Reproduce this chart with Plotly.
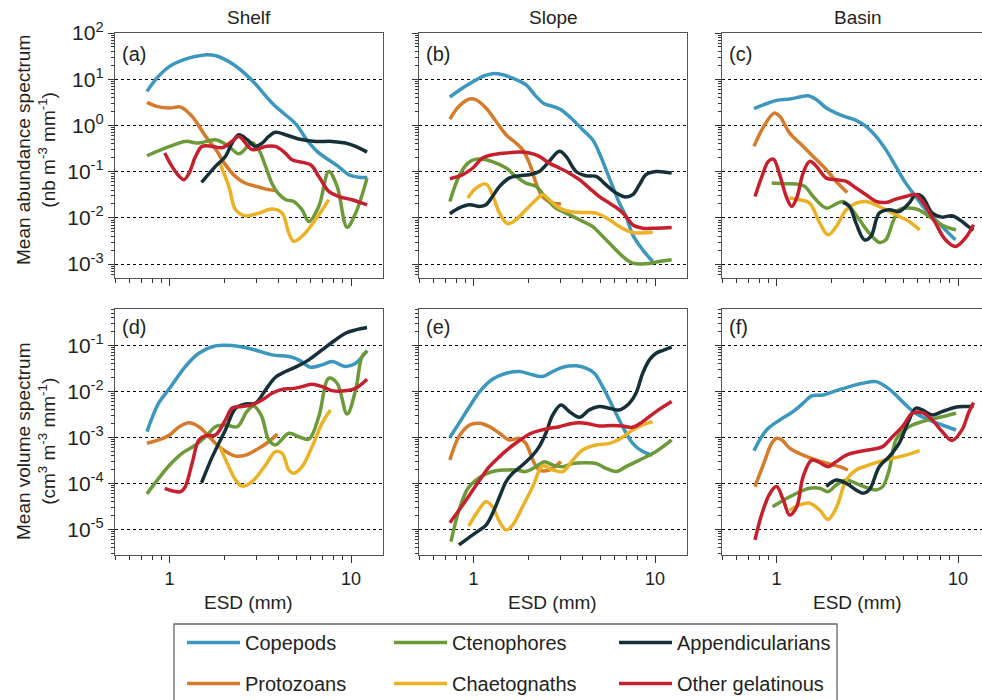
import math
import plotly.graph_objects as go

# ---------------- data (ESD in mm, spectra values) ----------------
SPECIES = ["Copepods", "Ctenophores", "Appendicularians",
           "Protozoans", "Chaetognaths", "Other gelatinous"]
COLUMN_TITLES = ["Shelf", "Slope", "Basin"]
PANEL_LABELS = ["(a)", "(b)", "(c)", "(d)", "(e)", "(f)"]
ROW_TITLES = ["Mean abundance spectrum<br>(nb m<sup>-3</sup> mm<sup>-1</sup>)",
              "Mean volume spectrum<br>(cm<sup>3</sup> m<sup>-3</sup> mm<sup>-1</sup>)"]
X_TICKS = [1, 10]
X_TICK_TEXT = ["1", "10"]
Y_TICKS_TOP = [1e-3, 1e-2, 1e-1, 1e0, 1e1, 1e2]
Y_TICK_TEXT_TOP = ["10<sup>-3</sup>", "10<sup>-2</sup>", "10<sup>-1</sup>",
                   "10<sup>0</sup>", "10<sup>1</sup>", "10<sup>2</sup>"]
Y_TICKS_BOT = [1e-5, 1e-4, 1e-3, 1e-2, 1e-1]
Y_TICK_TEXT_BOT = ["10<sup>-5</sup>", "10<sup>-4</sup>", "10<sup>-3</sup>",
                   "10<sup>-2</sup>", "10<sup>-1</sup>"]

# (a) Shelf - abundance
A_COP_X = [0.75, 0.85, 1.0, 1.2, 1.4, 1.6, 1.8, 2.0, 2.3, 2.6, 3.0, 3.4, 3.8, 4.3, 5.0, 5.7, 6.5, 7.5, 8.5, 9.7, 11.0, 12.3]
A_COP_Y = [5.46, 10.6, 19.0, 26.5, 31.3, 34.0, 32.3, 27.3, 19.6, 13.2, 7.6, 4.26, 2.67, 1.77, 1.04, 0.49, 0.275, 0.181, 0.130, 0.086, 0.076, 0.075]
A_PRO_X = [0.75, 0.85, 1.0, 1.15, 1.33, 1.58, 1.8, 2.0, 2.3, 2.6, 3.0, 3.4, 3.9]
A_PRO_Y = [3.16, 2.59, 2.38, 2.5, 1.57, 0.58, 0.30, 0.153, 0.079, 0.057, 0.048, 0.042, 0.0387]
A_CTE_X = [0.75, 1.0, 1.22, 1.45, 1.79, 2.12, 2.41, 2.85, 3.1, 3.38, 3.67, 3.92, 4.35, 4.83, 5.37, 5.85, 6.64, 7.54, 8.38, 9.51, 10.6, 12.25]
A_CTE_Y = [0.221, 0.352, 0.452, 0.416, 0.49, 0.352, 0.244, 0.42, 0.30, 0.13, 0.055, 0.036, 0.025, 0.0227, 0.015, 0.0084, 0.0177, 0.101, 0.048, 0.0063, 0.0127, 0.0726]
A_APP_X = [1.50, 1.79, 2.03, 2.21, 2.41, 2.68, 2.97, 3.24, 3.52, 3.83, 4.35, 5.15, 6.36, 7.86, 9.31, 10.6, 12.25]
A_APP_Y = [0.0586, 0.130, 0.214, 0.416, 0.63, 0.49, 0.352, 0.416, 0.58, 0.71, 0.63, 0.51, 0.452, 0.452, 0.416, 0.352, 0.265]
A_OTH_X = [0.94, 1.03, 1.13, 1.2, 1.28, 1.39, 1.51, 1.72, 1.95, 2.2, 2.41, 2.85, 3.38, 3.83, 4.35, 4.73, 5.98, 6.64, 7.54, 8.55, 10.1, 12.25]
A_OTH_Y = [0.253, 0.130, 0.079, 0.067, 0.093, 0.214, 0.352, 0.352, 0.33, 0.45, 0.58, 0.30, 0.352, 0.352, 0.25, 0.181, 0.141, 0.079, 0.0374, 0.029, 0.0247, 0.0192]
A_CHA_X = [1.89, 2.12, 2.31, 2.62, 3.10, 3.67, 4.17, 4.54, 4.83, 5.37, 6.36, 7.54]
A_CHA_Y = [0.153, 0.048, 0.015, 0.0111, 0.0127, 0.0155, 0.0127, 0.0047, 0.0031, 0.004, 0.0091, 0.0247]

# (b) Slope - abundance
B_COP_X = [0.74, 0.87, 1.0, 1.12, 1.27, 1.45, 1.64, 1.94, 2.21, 2.45, 2.73, 3.03, 3.52, 3.99, 4.53, 4.93, 5.37, 5.84, 6.36, 6.92, 7.53, 8.55, 9.70]
B_COP_Y = [4.12, 6.46, 9.0, 11.5, 13.2, 12.5, 10.6, 7.6, 4.26, 2.95, 2.59, 2.19, 1.33, 0.81, 0.49, 0.253, 0.110, 0.048, 0.0209, 0.0108, 0.0043, 0.00204, 0.00114]
B_PRO_X = [0.74, 0.83, 0.95, 1.03, 1.17, 1.33, 1.51, 1.71, 1.86, 2.03, 2.21, 2.40, 2.73, 3.03]
B_PRO_Y = [1.37, 2.59, 3.73, 3.6, 2.38, 1.22, 0.63, 0.416, 0.30, 0.153, 0.0566, 0.029, 0.0209, 0.0202]
B_CTE_X = [0.74, 0.83, 0.93, 1.03, 1.17, 1.33, 1.51, 1.71, 1.94, 2.21, 2.50, 2.84, 3.23, 3.83, 4.53, 5.14, 5.84, 6.63, 7.53, 8.92, 10.57, 12.35]
B_CTE_Y = [0.0227, 0.079, 0.153, 0.187, 0.181, 0.153, 0.12, 0.079, 0.0566, 0.048, 0.0269, 0.0163, 0.0127, 0.0091, 0.0065, 0.004, 0.0024, 0.00147, 0.00105, 0.00102, 0.00114, 0.00124]
B_APP_X = [0.74, 0.83, 0.95, 1.08, 1.17, 1.27, 1.39, 1.57, 1.79, 2.03, 2.30, 2.61, 2.97, 3.23, 3.67, 4.16, 4.73, 5.37, 6.10, 6.92, 7.53, 8.20, 8.92, 10.13, 12.35]
B_APP_Y = [0.0123, 0.0163, 0.0192, 0.0177, 0.0192, 0.029, 0.048, 0.0726, 0.0817, 0.086, 0.101, 0.167, 0.275, 0.214, 0.101, 0.0817, 0.079, 0.052, 0.0344, 0.0282, 0.0317, 0.052, 0.086, 0.101, 0.093]
B_OTH_X = [0.74, 0.87, 0.99, 1.12, 1.27, 1.51, 1.79, 2.03, 2.30, 2.61, 2.97, 3.37, 3.83, 4.34, 4.93, 5.60, 6.36, 6.92, 7.53, 8.55, 10.13, 12.35]
B_OTH_Y = [0.0703, 0.086, 0.12, 0.197, 0.232, 0.253, 0.265, 0.253, 0.214, 0.153, 0.12, 0.093, 0.067, 0.0442, 0.029, 0.0209, 0.015, 0.0108, 0.0071, 0.0060, 0.0060, 0.0062]
B_CHA_X = [0.93, 1.03, 1.17, 1.27, 1.39, 1.54, 1.71, 1.94, 2.21, 2.40, 2.61, 2.97, 3.37, 3.99, 4.73, 5.60, 6.36, 7.53, 9.70]
B_CHA_Y = [0.0269, 0.0442, 0.054, 0.0317, 0.0127, 0.0075, 0.0091, 0.015, 0.0247, 0.0317, 0.0247, 0.0163, 0.0138, 0.0131, 0.0127, 0.0091, 0.0065, 0.00484, 0.0049]

# (c) Basin - abundance
C_COP_X = [0.75, 0.85, 1.0, 1.18, 1.34, 1.49, 1.66, 1.88, 2.13, 2.42, 2.74, 3.11, 3.53, 4.0, 4.54, 5.15, 5.84, 6.63, 7.51, 8.52, 9.67]
C_COP_Y = [2.30, 2.81, 3.49, 3.73, 4.12, 4.40, 3.6, 2.38, 1.85, 1.52, 1.29, 0.955, 0.58, 0.30, 0.130, 0.0566, 0.029, 0.015, 0.0091, 0.0055, 0.00336]
C_PRO_X = [0.75, 0.85, 0.97, 1.04, 1.18, 1.34, 1.59, 1.88, 2.13, 2.45]
C_PRO_Y = [0.352, 0.955, 1.85, 1.575, 0.684, 0.416, 0.214, 0.110, 0.0615, 0.0356]
C_CTE_X = [0.94, 1.09, 1.29, 1.43, 1.59, 1.88, 2.13, 2.32, 2.52, 2.86, 3.24, 3.68, 4.0, 4.35, 4.73, 5.37, 6.09, 6.91, 7.84, 8.52, 9.75]
C_CTE_Y = [0.0566, 0.055, 0.054, 0.048, 0.029, 0.0163, 0.0202, 0.0227, 0.0177, 0.0091, 0.0047, 0.00294, 0.00336, 0.0077, 0.015, 0.0163, 0.015, 0.0108, 0.0077, 0.0065, 0.0055]
C_APP_X = [2.32, 2.52, 2.74, 3.05, 3.31, 3.68, 4.17, 4.73, 5.37, 5.84, 6.35, 7.21, 8.17, 9.27, 10.5, 11.4, 12.18]
C_APP_Y = [0.0216, 0.0177, 0.0077, 0.00336, 0.004, 0.0127, 0.015, 0.0138, 0.0209, 0.0317, 0.029, 0.0127, 0.0104, 0.0111, 0.0084, 0.0065, 0.0055]
C_OTH_X = [0.76, 0.83, 0.90, 0.96, 1.04, 1.13, 1.21, 1.29, 1.40, 1.52, 1.66, 1.88, 2.13, 2.42, 2.74, 3.11, 3.53, 4.0, 4.54, 5.15, 5.84, 6.63, 7.51, 8.52, 9.67, 10.97, 12.18]
C_OTH_Y = [0.029, 0.079, 0.167, 0.187, 0.086, 0.029, 0.0177, 0.0269, 0.093, 0.167, 0.130, 0.0726, 0.067, 0.0615, 0.0442, 0.0317, 0.0227, 0.0216, 0.0255, 0.029, 0.0317, 0.0177, 0.0077, 0.00336, 0.0024, 0.00365, 0.0071]
C_CHA_X = [1.18, 1.34, 1.52, 1.73, 1.92, 2.13, 2.42, 2.74, 3.11, 3.53, 4.0, 4.73, 5.37, 6.14]
C_CHA_Y = [0.0269, 0.0247, 0.0209, 0.0077, 0.0043, 0.0065, 0.015, 0.0209, 0.0227, 0.0192, 0.015, 0.0108, 0.0084, 0.0055]

# (d) Shelf - volume
D_COP_X = [0.75, 0.87, 1.0, 1.22, 1.45, 1.79, 2.21, 2.85, 3.67, 4.54, 5.15, 5.97, 6.92, 7.86, 9.31, 10.6, 12.25]
D_COP_Y = [0.00133, 0.0055, 0.0116, 0.0344, 0.067, 0.0967, 0.098, 0.0818, 0.0617, 0.0567, 0.048, 0.0333, 0.0374, 0.0442, 0.0344, 0.0406, 0.0766]
D_PRO_X = [0.75, 0.87, 1.0, 1.13, 1.28, 1.45, 1.65, 1.87, 2.12, 2.31, 2.62, 3.10, 3.52, 3.92]
D_PRO_Y = [0.00074, 0.000875, 0.00112, 0.0017, 0.00208, 0.0017, 0.00103, 0.000627, 0.00045, 0.00039, 0.00041, 0.00058, 0.00080, 0.00118]
D_CTE_X = [0.75, 0.87, 1.0, 1.17, 1.39, 1.58, 1.79, 2.03, 2.36, 2.65, 2.9, 3.2, 3.52, 3.83, 4.54, 5.15, 5.85, 6.64, 7.54, 8.38, 9.51, 10.6, 11.5, 12.25]
D_CTE_Y = [5.9e-5, 0.000128, 0.00025, 0.00045, 0.00068, 0.00103, 0.0017, 0.00185, 0.0017, 0.0035, 0.0048, 0.0030, 0.00088, 0.00068, 0.00122, 0.00103, 0.00091, 0.00281, 0.0192, 0.0149, 0.00321, 0.0107, 0.0567, 0.0728]
D_APP_X = [1.50, 1.72, 2.03, 2.31, 2.62, 2.97, 3.38, 3.83, 4.35, 4.94, 5.85, 6.92, 8.20, 9.31, 10.6, 12.25]
D_APP_Y = [0.000103, 0.00038, 0.00144, 0.00427, 0.0053, 0.0055, 0.0107, 0.0201, 0.0268, 0.0333, 0.048, 0.079, 0.13, 0.182, 0.215, 0.242]
D_OTH_X = [0.94, 1.03, 1.15, 1.22, 1.33, 1.45, 1.58, 1.79, 2.03, 2.21, 2.51, 2.85, 3.24, 3.67, 4.17, 4.73, 5.37, 6.10, 6.92, 7.86, 9.31, 10.6, 12.25]
D_OTH_Y = [7.8e-5, 6.9e-5, 6.6e-5, 8.5e-5, 0.000272, 0.000875, 0.00109, 0.00112, 0.00238, 0.00427, 0.00465, 0.00505, 0.0065, 0.00906, 0.0110, 0.0114, 0.0126, 0.0142, 0.0126, 0.0103, 0.0102, 0.0116, 0.0182]
D_CHA_X = [1.89, 2.12, 2.31, 2.51, 2.85, 3.38, 3.83, 4.17, 4.54, 4.83, 5.37, 6.10, 6.92, 7.70]
D_CHA_Y = [0.000627, 0.00023, 0.000118, 8.7e-5, 0.000109, 0.00025, 0.00049, 0.00045, 0.000195, 0.000165, 0.00023, 0.000627, 0.00201, 0.00393]

# (e) Slope - volume
E_COP_X = [0.74, 0.83, 0.95, 1.08, 1.27, 1.51, 1.79, 2.03, 2.40, 2.73, 3.10, 3.67, 4.16, 4.63, 5.14, 5.84, 6.63, 7.53, 8.55, 9.70]
E_COP_Y = [0.001, 0.00201, 0.00465, 0.00984, 0.0182, 0.0246, 0.0268, 0.0238, 0.0209, 0.0268, 0.0333, 0.0356, 0.0316, 0.0246, 0.0126, 0.00465, 0.0017, 0.00074, 0.00049, 0.00041]
E_PRO_X = [0.74, 0.83, 0.95, 1.08, 1.22, 1.39, 1.57, 1.79, 1.94, 2.12, 2.30, 2.61, 3.03]
E_PRO_Y = [0.000321, 0.00103, 0.00185, 0.00201, 0.0017, 0.00122, 0.000875, 0.00095, 0.00074, 0.00032, 0.000195, 0.000195, 0.000296]
E_CTE_X = [0.75, 0.83, 0.93, 1.03, 1.17, 1.33, 1.51, 1.71, 1.94, 2.21, 2.45, 2.73, 3.10, 3.52, 4.16, 4.73, 5.37, 6.10, 6.92, 8.20, 10.13, 12.35]
E_CTE_Y = [5.4e-6, 2.6e-5, 7.8e-5, 0.000118, 0.00016, 0.000188, 0.000195, 0.000195, 0.00018, 0.00023, 0.000296, 0.00025, 0.00023, 0.00027, 0.00028, 0.00027, 0.000212, 0.00018, 0.00023, 0.00032, 0.00049, 0.000875]
E_APP_X = [0.83, 0.93, 1.03, 1.17, 1.27, 1.39, 1.51, 1.64, 1.86, 2.12, 2.30, 2.50, 2.73, 3.03, 3.37, 3.83, 4.34, 4.93, 5.60, 6.36, 7.22, 7.85, 8.55, 9.31, 10.13, 11.0, 12.35]
E_APP_Y = [4.6e-6, 6.4e-6, 8.5e-6, 1.24e-5, 2.2e-5, 5.1e-5, 0.000109, 0.000165, 0.00025, 0.00041, 0.000627, 0.00122, 0.00306, 0.00505, 0.00361, 0.00272, 0.00393, 0.00465, 0.00427, 0.00393, 0.0055, 0.00906, 0.0246, 0.048, 0.067, 0.0766, 0.0905]
E_OTH_X = [0.74, 0.83, 0.95, 1.08, 1.22, 1.39, 1.57, 1.79, 2.03, 2.30, 2.61, 2.97, 3.37, 3.83, 4.34, 4.93, 5.84, 6.63, 7.53, 8.55, 10.13, 12.35]
E_OTH_Y = [1.4e-5, 2.6e-5, 5.6e-5, 0.000118, 0.00023, 0.00038, 0.00058, 0.00085, 0.00118, 0.0014, 0.00157, 0.0017, 0.00195, 0.00208, 0.00195, 0.00176, 0.0018, 0.00176, 0.00165, 0.00219, 0.00361, 0.00596]
E_CHA_X = [0.94, 1.05, 1.17, 1.27, 1.39, 1.51, 1.64, 1.86, 2.12, 2.40, 2.73, 3.10, 3.52, 3.99, 4.73, 5.60, 6.36, 7.53, 8.55, 9.70]
E_CHA_Y = [1.18e-5, 2.4e-5, 4.0e-5, 3.1e-5, 1.47e-5, 9.7e-6, 1.24e-5, 3.1e-5, 8.5e-5, 0.000238, 0.000195, 0.00018, 0.00032, 0.00053, 0.00068, 0.00074, 0.00091, 0.00144, 0.00185, 0.00219]

# (f) Basin - volume
F_COP_X = [0.75, 0.88, 1.04, 1.23, 1.40, 1.56, 1.80, 2.13, 2.52, 2.98, 3.53, 4.0, 4.54, 5.15, 5.84, 6.91, 8.17, 9.75]
F_COP_Y = [0.000513, 0.00144, 0.00238, 0.00361, 0.0055, 0.00792, 0.0083, 0.0103, 0.0126, 0.0149, 0.0162, 0.0126, 0.0083, 0.00505, 0.00333, 0.00238, 0.00185, 0.00144]
F_PRO_X = [0.76, 0.85, 0.94, 1.0, 1.07, 1.18, 1.40, 1.66, 1.96, 2.22, 2.47]
F_PRO_Y = [8.5e-5, 0.000272, 0.00074, 0.00095, 0.000875, 0.00058, 0.00041, 0.00032, 0.000263, 0.00023, 0.000195]
F_CTE_X = [0.95, 1.09, 1.29, 1.52, 1.73, 1.92, 2.13, 2.42, 2.74, 3.11, 3.53, 3.84, 4.17, 4.54, 4.94, 5.60, 6.35, 7.51, 8.52, 9.75]
F_CTE_Y = [3.1e-5, 4.3e-5, 6.1e-5, 7.8e-5, 7.8e-5, 6.6e-5, 9.2e-5, 0.000118, 0.0001, 8.2e-5, 7.2e-5, 8.5e-5, 0.000195, 0.000875, 0.00133, 0.00185, 0.00219, 0.00259, 0.00291, 0.00333]
F_APP_X = [1.88, 2.13, 2.42, 2.74, 2.98, 3.24, 3.68, 4.17, 4.73, 5.37, 5.84, 6.35, 7.21, 8.17, 9.67, 10.97, 12.18]
F_APP_Y = [8.5e-5, 0.000118, 0.0001, 7.2e-5, 6.1e-5, 7.2e-5, 0.00023, 0.00038, 0.00074, 0.00238, 0.00427, 0.00393, 0.00306, 0.00361, 0.00449, 0.00465, 0.00465]
F_OTH_X = [0.76, 0.83, 0.92, 1.0, 1.09, 1.18, 1.29, 1.40, 1.56, 1.73, 1.92, 2.13, 2.42, 2.86, 3.38, 3.84, 4.35, 4.94, 5.60, 6.35, 7.21, 8.17, 9.27, 10.5, 11.4, 12.18]
F_OTH_Y = [5.9e-6, 2.2e-5, 6.1e-5, 8.5e-5, 4.3e-5, 2.05e-5, 3.1e-5, 0.00014, 0.00032, 0.00028, 0.00023, 0.000296, 0.00041, 0.00049, 0.00055, 0.000627, 0.00103, 0.0017, 0.00333, 0.00344, 0.00238, 0.00133, 0.00085, 0.00144, 0.00333, 0.00567]
F_CHA_X = [1.18, 1.34, 1.52, 1.73, 1.92, 2.13, 2.42, 2.74, 3.11, 3.68, 4.35, 5.15, 6.14]
F_CHA_Y = [2.6e-5, 3.4e-5, 3.7e-5, 2.6e-5, 1.65e-5, 2.9e-5, 0.000118, 0.000195, 0.000238, 0.000296, 0.00035, 0.00041, 0.000513]

# ---------------- styling ----------------
COLORS = {"Copepods": "#3b97bd", "Ctenophores": "#6c9a38", "Appendicularians": "#163039",
          "Protozoans": "#d67a2b", "Chaetognaths": "#ecb125", "Other gelatinous": "#c6202e"}
LEGEND_OF = {"Copepods": ("legend", 1), "Protozoans": ("legend", 2),
             "Ctenophores": ("legend2", 1), "Chaetognaths": ("legend2", 2),
             "Appendicularians": ("legend3", 1), "Other gelatinous": ("legend3", 2)}
DRAW_ORDER = ["Copepods", "Protozoans", "Ctenophores", "Chaetognaths", "Appendicularians", "Other gelatinous"]
FONT = "Liberation Sans, Arial, sans-serif"
TXT = "#231f20"

PANEL_SERIES = [
    {"Copepods": (A_COP_X, A_COP_Y), "Protozoans": (A_PRO_X, A_PRO_Y), "Ctenophores": (A_CTE_X, A_CTE_Y),
     "Chaetognaths": (A_CHA_X, A_CHA_Y), "Appendicularians": (A_APP_X, A_APP_Y), "Other gelatinous": (A_OTH_X, A_OTH_Y)},
    {"Copepods": (B_COP_X, B_COP_Y), "Protozoans": (B_PRO_X, B_PRO_Y), "Ctenophores": (B_CTE_X, B_CTE_Y),
     "Chaetognaths": (B_CHA_X, B_CHA_Y), "Appendicularians": (B_APP_X, B_APP_Y), "Other gelatinous": (B_OTH_X, B_OTH_Y)},
    {"Copepods": (C_COP_X, C_COP_Y), "Protozoans": (C_PRO_X, C_PRO_Y), "Ctenophores": (C_CTE_X, C_CTE_Y),
     "Chaetognaths": (C_CHA_X, C_CHA_Y), "Appendicularians": (C_APP_X, C_APP_Y), "Other gelatinous": (C_OTH_X, C_OTH_Y)},
    {"Copepods": (D_COP_X, D_COP_Y), "Protozoans": (D_PRO_X, D_PRO_Y), "Ctenophores": (D_CTE_X, D_CTE_Y),
     "Chaetognaths": (D_CHA_X, D_CHA_Y), "Appendicularians": (D_APP_X, D_APP_Y), "Other gelatinous": (D_OTH_X, D_OTH_Y)},
    {"Copepods": (E_COP_X, E_COP_Y), "Protozoans": (E_PRO_X, E_PRO_Y), "Ctenophores": (E_CTE_X, E_CTE_Y),
     "Chaetognaths": (E_CHA_X, E_CHA_Y), "Appendicularians": (E_APP_X, E_APP_Y), "Other gelatinous": (E_OTH_X, E_OTH_Y)},
    {"Copepods": (F_COP_X, F_COP_Y), "Protozoans": (F_PRO_X, F_PRO_Y), "Ctenophores": (F_CTE_X, F_CTE_Y),
     "Chaetognaths": (F_CHA_X, F_CHA_Y), "Appendicularians": (F_APP_X, F_APP_Y), "Other gelatinous": (F_OTH_X, F_OTH_Y)},
]

W, H = 982, 700


def fx(p):
    return p / W


def fy(p):
    return 1 - p / H


X_DOM_PX = [(115, 383), (419, 687), (722, 982)]
Y_DOM_PX = [(33, 278), (309, 555)]
X_RANGES = [[math.log10(0.5), math.log10(15)], [math.log10(0.5), math.log10(15)], [math.log10(0.5), 1.132]]
Y_RANGES = [[-3.3, 2.0], [-5.556, -0.214]]

X_MINOR = [0.5, 0.6, 0.7, 0.8, 0.9] + [float(k) for k in range(2, 10)]


def y_minor(rng):
    vals = []
    for e in range(-7, 3):
        for k in range(2, 10):
            v = k * 10.0 ** e
            if rng[0] <= math.log10(v) <= rng[1]:
                vals.append(v)
    return vals


fig = go.Figure()

for i, series in enumerate(PANEL_SERIES):
    ax = "" if i == 0 else str(i + 1)
    for name in DRAW_ORDER:
        xs, ys = series[name]
        leg, rank = LEGEND_OF[name]
        fig.add_trace(go.Scatter(
            x=xs, y=ys, mode="lines", name=name,
            line=dict(color=COLORS[name], width=3.5, shape="spline", smoothing=1.0),
            xaxis="x" + ax, yaxis="y" + ax,
            showlegend=(i == 0), legend=leg, legendrank=rank, legendgroup=name,
            hoverinfo="skip"))

layout = dict(
    width=W, height=H, margin=dict(l=0, r=0, t=0, b=0, pad=0, autoexpand=False),
    paper_bgcolor="white", plot_bgcolor="white",
    font=dict(family=FONT, color=TXT, size=19),
)

for i in range(6):
    col, row = i % 3, i // 3
    ax = "" if i == 0 else str(i + 1)
    yr = Y_RANGES[row]
    layout["xaxis" + ax] = dict(
        type="log", domain=[fx(X_DOM_PX[col][0]), fx(X_DOM_PX[col][1])],
        range=X_RANGES[col], anchor="y" + ax,
        tickvals=X_TICKS, ticktext=X_TICK_TEXT, showticklabels=(row == 1),
        ticks="outside", ticklen=7, tickwidth=1.2, tickcolor="#333",
        minor=dict(tickvals=X_MINOR, ticks="outside", ticklen=4, tickwidth=1, tickcolor="#333"),
        showgrid=False, zeroline=False,
        showline=True, linecolor="#555", linewidth=1.3, mirror=True,
        tickfont=dict(size=18, family=FONT, color=TXT),
    )
    layout["yaxis" + ax] = dict(
        type="log", domain=[fy(Y_DOM_PX[row][1]), fy(Y_DOM_PX[row][0])],
        range=yr, anchor="x" + ax,
        tickvals=Y_TICKS_TOP if row == 0 else Y_TICKS_BOT,
        ticktext=Y_TICK_TEXT_TOP if row == 0 else Y_TICK_TEXT_BOT,
        showticklabels=(col == 0),
        ticks="outside", ticklen=6, tickwidth=1.2, tickcolor="#333",
        minor=dict(tickvals=y_minor(yr), ticks="outside", ticklen=3, tickwidth=1, tickcolor="#333"),
        showgrid=True, gridcolor="#000", gridwidth=1, griddash="dot",
        zeroline=False,
        showline=True, linecolor="#555", linewidth=1.3, mirror=(col != 2),
        tickfont=dict(size=21, family=FONT, color=TXT),
    )

ann = []
TITLE_X = [249, 553, 858]
for c, t in enumerate(COLUMN_TITLES):
    ann.append(dict(text=t, x=fx(TITLE_X[c]), y=fy(18), xref="paper", yref="paper",
                    xanchor="center", yanchor="middle", showarrow=False, font=dict(size=19)))
    ann.append(dict(text="ESD (mm)", x=fx(TITLE_X[c] - 1), y=fy(602), xref="paper", yref="paper",
                    xanchor="center", yanchor="middle", showarrow=False, font=dict(size=19)))
for i, lab in enumerate(PANEL_LABELS):
    col, row = i % 3, i // 3
    ann.append(dict(text=lab, x=fx(X_DOM_PX[col][0] + 5), y=fy([54, 327][row]), xref="paper", yref="paper",
                    xanchor="left", yanchor="middle", showarrow=False, font=dict(size=20)))
ROW_TITLE_Y = [150, 442]
for r, t in enumerate(ROW_TITLES):
    ann.append(dict(text=t, x=fx(36), y=fy(ROW_TITLE_Y[r]), xref="paper", yref="paper",
                    xanchor="center", yanchor="middle", textangle=-90, showarrow=False,
                    font=dict(size=19)))
layout["annotations"] = ann

legend_common = dict(font=dict(size=20, family=FONT, color=TXT), bgcolor="rgba(0,0,0,0)",
                     borderwidth=0, xanchor="left", yanchor="top", orientation="v",
                     tracegroupgap=12, itemwidth=53, traceorder="grouped")
layout["legend"] = dict(x=fx(182), y=fy(623), **legend_common)
layout["legend2"] = dict(x=fx(389), y=fy(623), **legend_common)
layout["legend3"] = dict(x=fx(614), y=fy(623), **legend_common)

layout["shapes"] = [dict(type="rect", xref="paper", yref="paper",
                         x0=fx(174), x1=fx(837), y0=fy(706), y1=fy(624),
                         line=dict(color="#666", width=1.3), fillcolor="rgba(0,0,0,0)")]

fig.update_layout(**layout)
fig.write_html("out.html", config={"displayModeBar": False},
               post_script="document.body.style.margin='0px';document.body.style.overflow='hidden';")
